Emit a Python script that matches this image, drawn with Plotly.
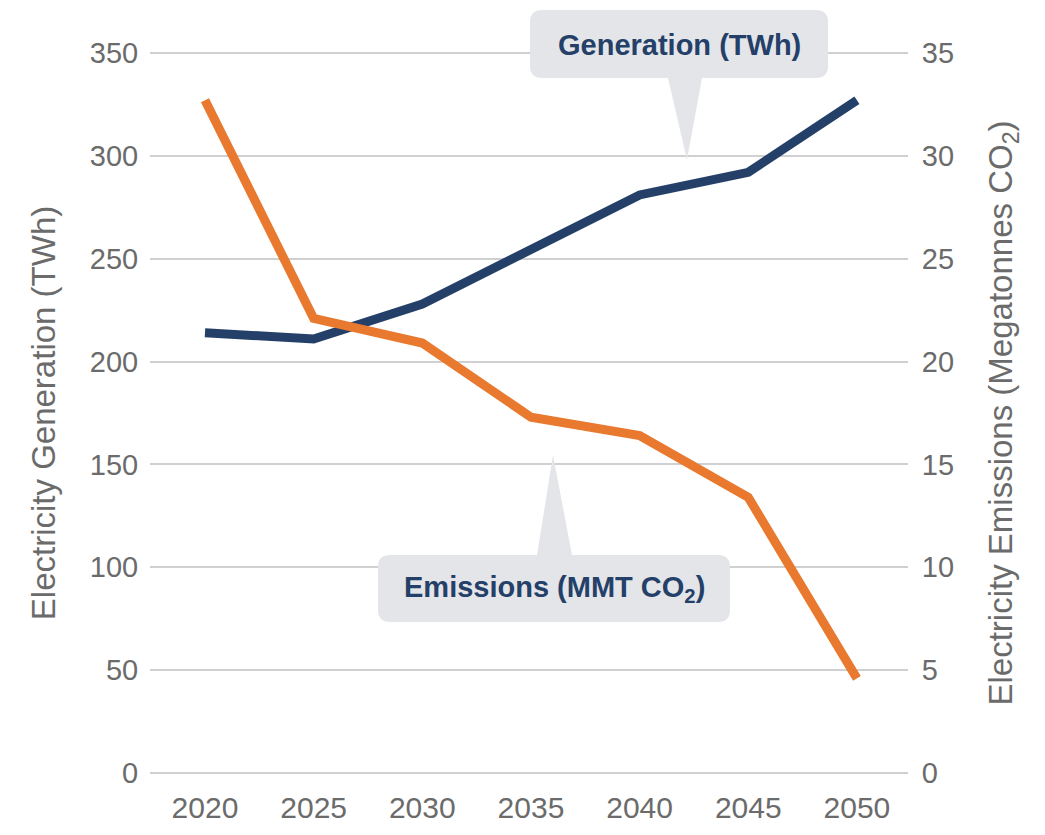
import plotly.graph_objects as go

# data
years = [2020, 2025, 2030, 2035, 2040, 2045, 2050]
generation_twh = [214, 211, 228, 254, 281, 292, 327]
emissions_mmt = [32.7, 22.1, 20.9, 17.3, 16.4, 13.4, 4.6]

gen_ticks = [0, 50, 100, 150, 200, 250, 300, 350]
emi_ticks = [0, 5, 10, 15, 20, 25, 30, 35]

NAVY = "#244068"
ORANGE = "#e8792f"
GREY = "#6b6b6b"
BOX = "#e3e5e8"

# the page body adds an 8px margin, so the figure sits 8px in from the window corner
OFF = 8
W, H = 1045 - OFF, 835 - OFF
# plot area in window px: x 150..908, value 0 at y=773, 350 at y=53 (small pad keeps edge gridlines)
PAD = 3
ML, MR = 150 - OFF, 1045 - 908
MT, MB = 53 - OFF - PAD, 835 - 773 - PAD
PAD_V = PAD * 350 / 720


def to_paper(px, py):
    # window pixel position -> paper coords
    x = (px - OFF - ML) / (W - ML - MR)
    y = (H - MB - (py - OFF)) / (H - MT - MB)
    return x, y


def pt(px, py):
    x, y = to_paper(px, py)
    return f"{x:.4f},{y:.4f}"


def callout(x0, x1, y0, y1, base0, base1, tip, pointer_down, r=12):
    if pointer_down:
        p = [f"M{pt(x0 + r, y0)}", f"L{pt(x1 - r, y0)}",
             f"Q{pt(x1, y0)} {pt(x1, y0 + r)}", f"L{pt(x1, y1 - r)}",
             f"Q{pt(x1, y1)} {pt(x1 - r, y1)}", f"L{pt(base1, y1)}",
             f"L{pt(*tip)}", f"L{pt(base0, y1)}", f"L{pt(x0 + r, y1)}",
             f"Q{pt(x0, y1)} {pt(x0, y1 - r)}", f"L{pt(x0, y0 + r)}",
             f"Q{pt(x0, y0)} {pt(x0 + r, y0)}", "Z"]
    else:
        p = [f"M{pt(x0 + r, y0)}", f"L{pt(base0, y0)}",
             f"L{pt(*tip)}", f"L{pt(base1, y0)}", f"L{pt(x1 - r, y0)}",
             f"Q{pt(x1, y0)} {pt(x1, y0 + r)}", f"L{pt(x1, y1 - r)}",
             f"Q{pt(x1, y1)} {pt(x1 - r, y1)}", f"L{pt(x0 + r, y1)}",
             f"Q{pt(x0, y1)} {pt(x0, y1 - r)}", f"L{pt(x0, y0 + r)}",
             f"Q{pt(x0, y0)} {pt(x0 + r, y0)}", "Z"]
    return dict(type="path", path=" ".join(p), xref="paper", yref="paper",
                fillcolor=BOX, line=dict(width=0), layer="above")


fig = go.Figure()

fig.add_trace(go.Scatter(
    x=years, y=generation_twh, mode="lines",
    line=dict(color=NAVY, width=9), name="Generation (TWh)"
))
fig.add_trace(go.Scatter(
    x=years, y=emissions_mmt, mode="lines", yaxis="y2",
    line=dict(color=ORANGE, width=9), name="Emissions (MMT CO2)"
))

font = "Liberation Sans, Arial, Helvetica, sans-serif"

fig.update_layout(
    width=W, height=H,
    margin=dict(l=ML, r=MR, t=MT, b=MB, autoexpand=False),
    paper_bgcolor="white", plot_bgcolor="white",
    showlegend=False,
    font=dict(family=font, size=28, color=GREY),
    xaxis=dict(
        range=[2017.47, 2052.35], tickvals=years, automargin=False,
        showgrid=False, zeroline=False, showline=False,
        ticks="outside", ticklen=5, tickcolor="rgba(0,0,0,0)",
        tickfont=dict(size=30, color=GREY),
    ),
    yaxis=dict(
        range=[-PAD_V, 350 + PAD_V], tickvals=gen_ticks, automargin=False,
        showgrid=True, gridcolor="#d0d0d0", gridwidth=2,
        zeroline=False, showline=False,
        ticks="outside", ticklen=5, tickcolor="rgba(0,0,0,0)",
        tickfont=dict(size=29, color=GREY),
        title=dict(text="Electricity Generation (TWh)", standoff=24,
                   font=dict(size=33, color=GREY)),
    ),
    yaxis2=dict(
        range=[-PAD_V / 10, 35 + PAD_V / 10], tickvals=emi_ticks,
        overlaying="y", side="right", automargin=False,
        showgrid=False, zeroline=False, showline=False,
        ticks="outside", ticklen=7, tickcolor="rgba(0,0,0,0)",
        tickfont=dict(size=29, color=GREY),
        title=dict(text="Electricity Emissions (Megatonnes CO<sub>2</sub>)", standoff=35,
                   font=dict(size=33, color=GREY)),
    ),
)

# callout boxes (window px)
fig.add_shape(callout(530, 828, 10, 78, 668, 702, (687, 160), True))
fig.add_shape(callout(378, 730, 555, 622, 537, 572, (553, 455), False))

gx, gy = to_paper(679, 45)
ex, ey = to_paper(554, 589)
fig.add_annotation(
    text="<b>Generation (TWh)</b>", xref="paper", yref="paper", x=gx, y=gy,
    xanchor="center", yanchor="middle",
    showarrow=False, font=dict(size=29, color=NAVY, family=font),
)
fig.add_annotation(
    text="<b>Emissions (MMT CO<sub>2</sub>)</b>", xref="paper", yref="paper", x=ex, y=ey,
    xanchor="center", yanchor="middle",
    showarrow=False, font=dict(size=29, color=NAVY, family=font),
)

fig.write_html("out.html")
